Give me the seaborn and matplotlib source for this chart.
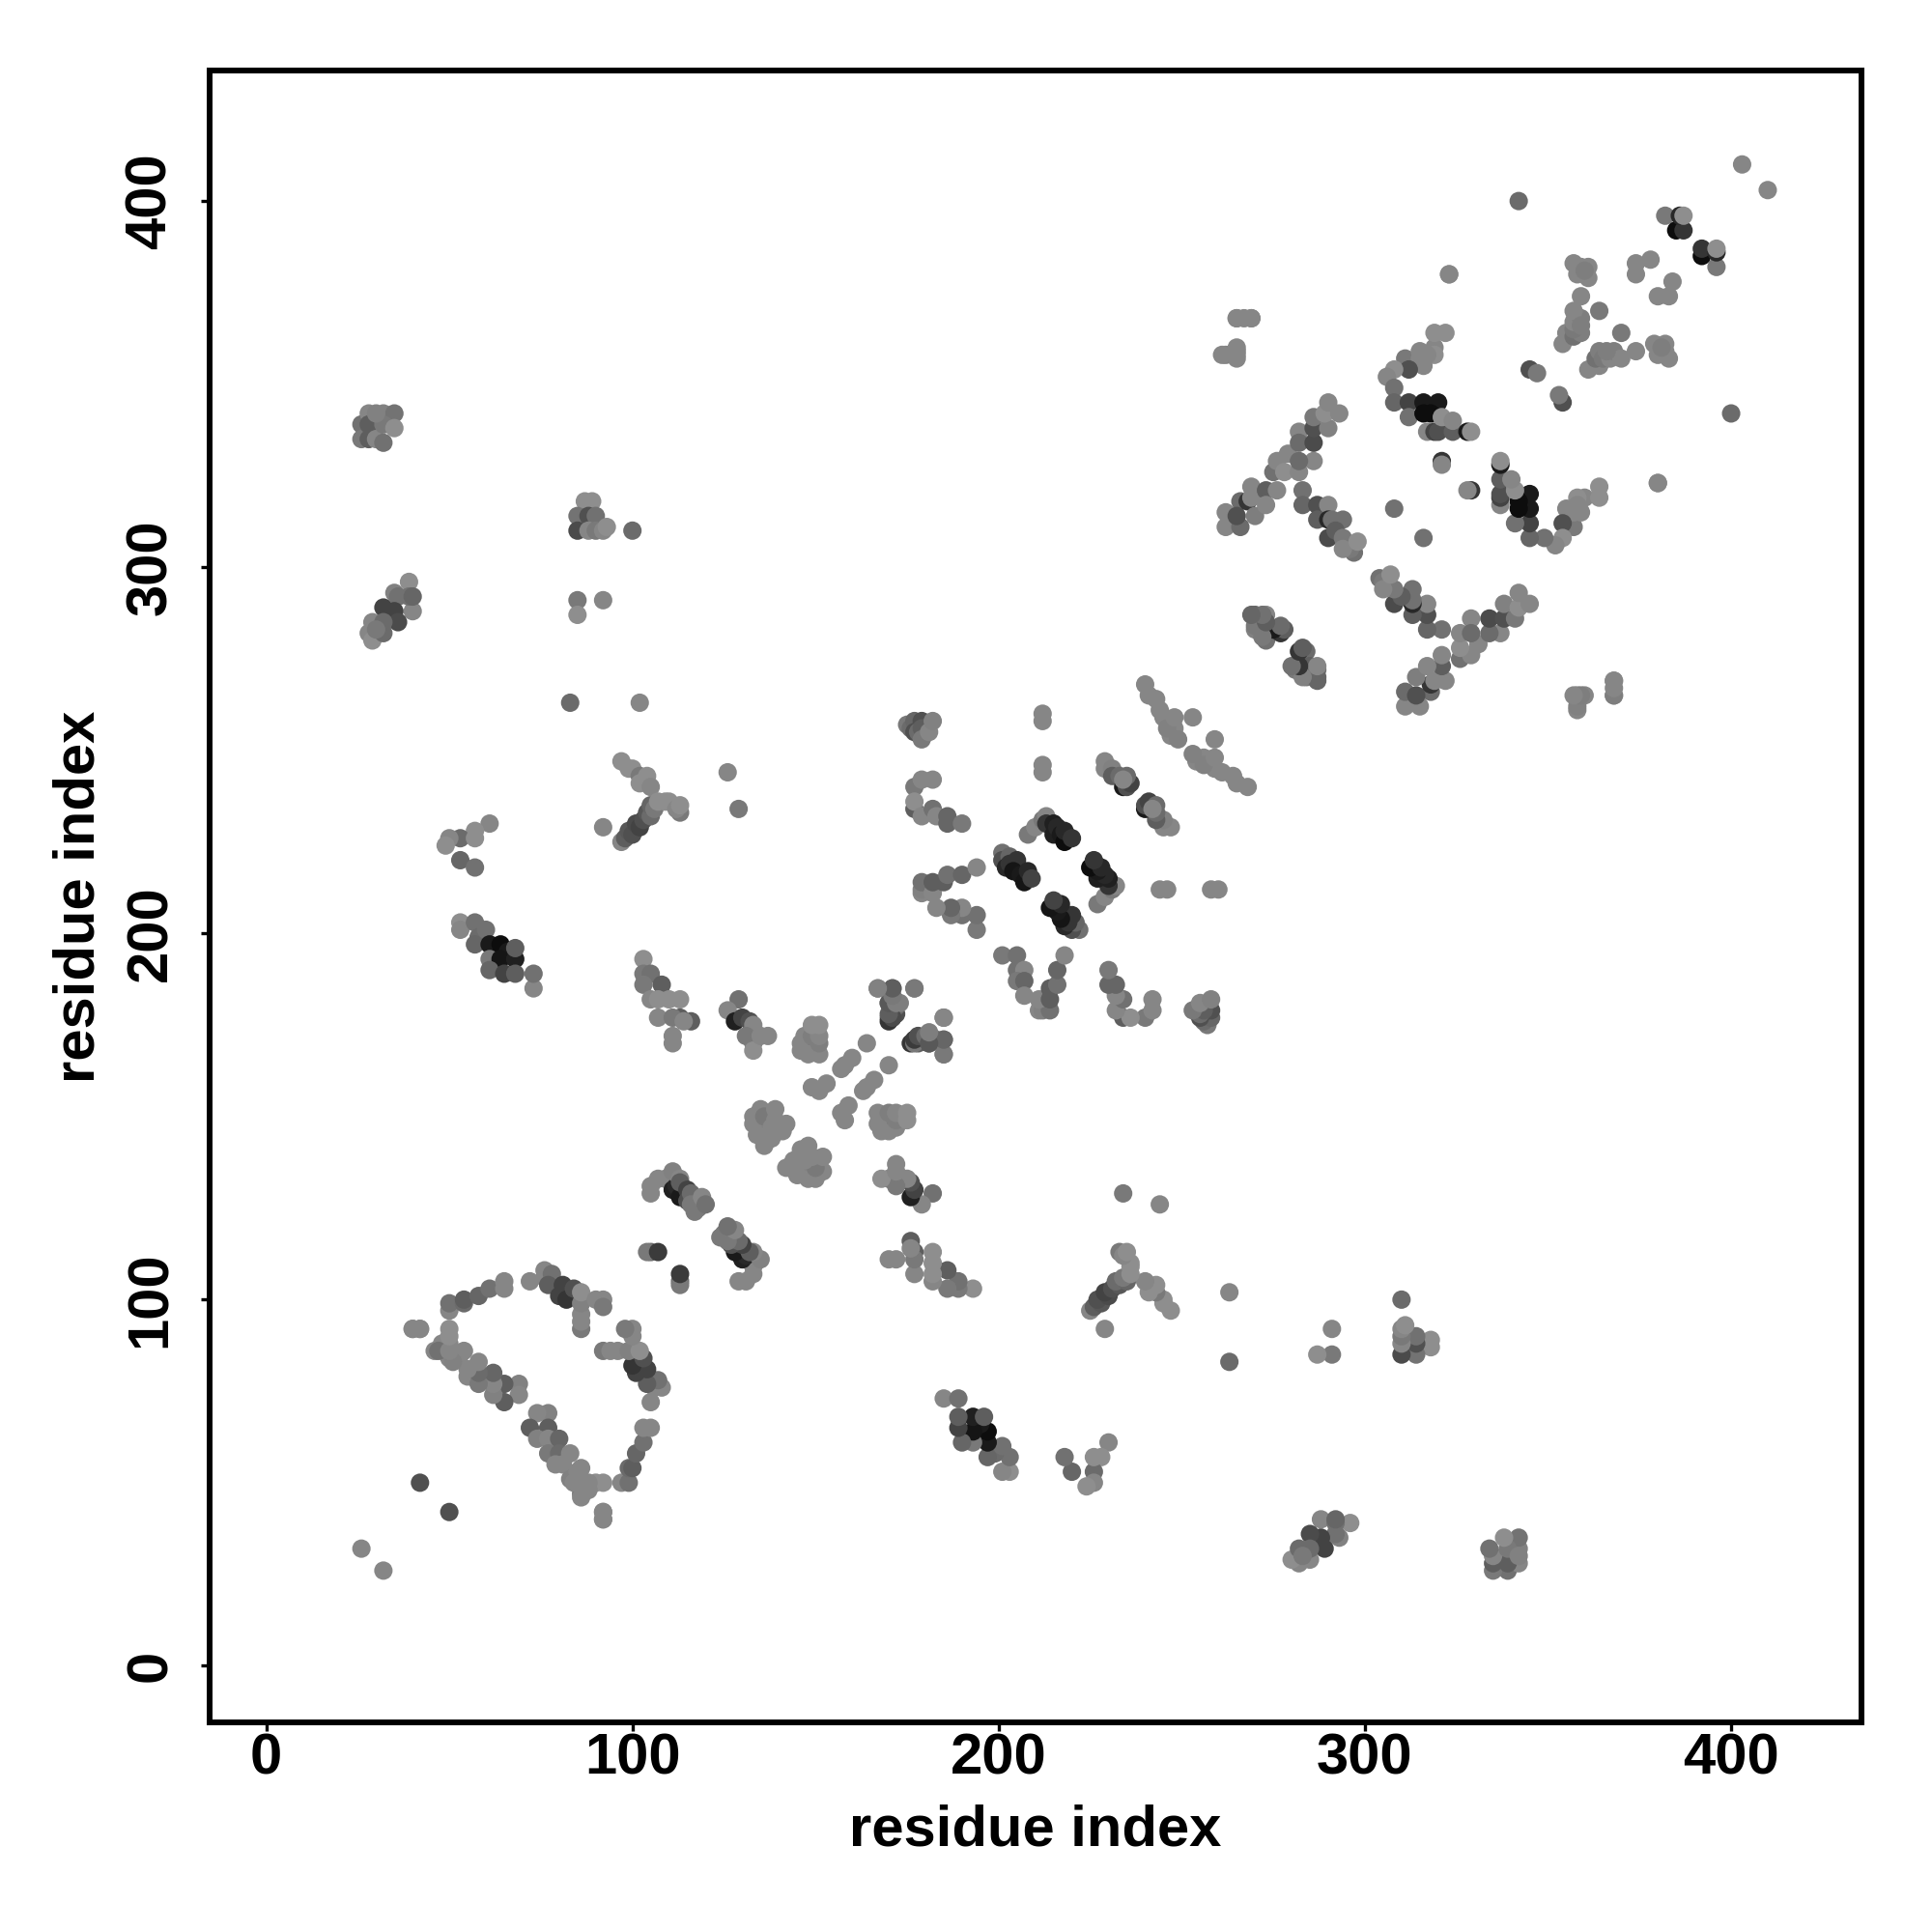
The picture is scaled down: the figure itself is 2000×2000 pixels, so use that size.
import pandas as pd
import matplotlib
matplotlib.use("Agg")
import matplotlib.pyplot as plt
import seaborn as sns

# contact map, each entry is (residue, residue, grey level), the map is symmetric
far_a = [(26,339,.42),(26,335,.45),(28,342,.5),(28,339,.35),(28,335,.35),(32,342,.48),(35,342,.43),(30,335,.5),
         (32,339,.45),(30,342,.48),(32,334,.42),(35,338,.53)]
far_b = [(39,296,.53),(40,288,.5),(35,293,.48),(36,292,.42),(39,292,.42),(40,292,.38),(32,289,.25),(35,288,.25),
         (36,285,.28),(29,285,.5),(32,285,.4),(28,282,.5),(29,280,.53),(32,282,.4),(30,283,.45)]
far_c = [(87,318,.53),(89,318,.53),(85,314,.43),(88,314,.3),(90,314,.42),(85,310,.28),(88,310,.5),(90,310,.45),
         (92,310,.5),(93,311,.53),(100,310,.4),(85,291,.45),(92,291,.5),(85,287,.53),(83,263,.4),(102,263,.5),
         (42,50,.3),(26,32,.5)]
left_a = [(61,230,.5),(57,228,.53),(53,226,.4),(57,226,.53),(50,226,.5),(49,224,.53),(53,220,.38),(57,218,.42)]
left_b = [(53,203,.53),(53,201,.5),(57,203,.42),(58,199,.4),(57,197,.38),(60,201,.42),(61,197,.1),(64,197,.05),
          (66,195,.1),(61,193,.45),(64,193,.08),(68,193,.12),(68,196,.35),(61,190,.38),(65,189,.25),(68,189,.35),
          (73,185,.5),(73,189,.42)]
stem_top = [(97,247,.53),(99,245,.53),(100,245,.53),(102,243,.45),(104,243,.53),(102,241,.53),(104,241,.53),
            (105,240,.5)]
stem = [(92,229,.5),(97,225,.5),(98,226,.35),(99,228,.33),(100,227,.3),(101,230,.28),(102,229,.25),(103,231,.3),
        (104,233,.33),(105,232,.4),(105,235,.38),(106,234,.45),(107,236,.53),(109,236,.53),(110,236,.53),
        (113,233,.45),(112,234,.5),(113,235,.53),(126,244,.5),(129,234,.45)]
mid_a = [(103,193,.53),(103,189,.45),(105,189,.42),(103,186,.45),(108,186,.35),(105,182,.5),(107,182,.53),
         (110,182,.53),(113,182,.53),(107,177,.5),(113,177,.35),(111,177,.45),(116,176,.35),(114,176,.5),
         (111,172,.5),(111,170,.5)]
mid_b = [(129,182,.42),(126,179,.5),(128,176,.12),(130,177,.25),(132,176,.3),(133,175,.5),(131,172,.45),
         (133,170,.45),(133,168,.53),(135,172,.5),(137,172,.5)]
centre_a = [(146,170,.5),(148,170,.45),(146,168,.5),(148,167,.5),(151,167,.5),(151,170,.47),(147,172,.5),
            (149,172,.47),(151,172,.5),(149,175,.53),(151,175,.53)]
centre_b = [(164,170,.5),(160,166,.5),(158,164,.5),(157,163,.5),(149,158,.5),(151,157,.5),(153,159,.5)]
centre_c = [(136,148,.35),(137,146,.45),(133,148,.5),(133,150,.5),(134,145,.5),(135,152,.5),(136,150,.45),
            (136,142,.5),(138,144,.5),(138,147,.5),(139,149,.5),(139,152,.5),(141,146,.5),(142,148,.5)]
helix_a = [(105,131,.5),(105,129,.5),(107,133,.5),(109,133,.5),(111,130,.12),(112,131,.15),(113,128,.1),
           (111,135,.48),(113,133,.5),(113,132,.35),(115,130,.25),(115,127,.3),(116,129,.4),(117,124,.45),
           (116,126,.45),(118,125,.45),(119,128,.5),(120,126,.42),(105,113,.4),(104,113,.45),(107,113,.22)]
helix_b = [(167,185,.45),(171,185,.38),(177,185,.5),(170,177,.45),(171,177,.22),(172,178,.3),(172,180,.4),
           (170,181,.33),(173,181,.47),(185,177,.45),(176,170,.2),(177,171,.28),(178,170,.35),(181,170,.33),
           (181,172,.47),(183,171,.45),(185,171,.35),(185,167,.48)]
arch_a = [(77,69,.48),(74,69,.5),(72,65,.35),(77,65,.35),(74,62,.48),(77,62,.5),(80,62,.38),(77,58,.45),(80,58,.4),
          (83,58,.5),(81,55,.5),(86,54,.5),(83,51,.48),(86,47,.42),(86,50,.5),(90,50,.53),(92,50,.53),(97,50,.5),
          (99,50,.42),(99,54,.4),(100,54,.35),(101,58,.38),(103,61,.42),(103,65,.5),(105,65,.5),(92,42,.5),(92,40,.5)]
arch_b = [(72,105,.5),(76,108,.5),(76,106,.5),(78,107,.42),(77,104,.35),(80,101,.25),(81,104,.25),(82,100,.2),
          (84,103,.3),(86,96,.5),(86,92,.45),(86,94,.5),(86,99,.48),(86,102,.53),(90,100,.5),(92,100,.5),(92,98,.45)]
arch_c = [(40,92,.5),(42,92,.5),(46,86,.5),(48,88,.5),(50,88,.5),(50,84,.5),(53,85,.5),(55,79,.5)]
side_a = [(175,257,.45),(176,256,.4),(177,258,.38),(179,258,.3),(177,255,.3),(178,255,.4),(179,256,.35),
          (179,253,.45),(181,255,.5),(182,258,.48),(177,240,.45),(179,242,.5),(182,242,.5)]
side_b = [(177,234,.35),(177,236,.53),(179,232,.5),(182,234,.42),(183,232,.5),(186,232,.38),(186,230,.38),(190,230,.45)]
bar_top = [(208,227,.45),(210,229,.5),(212,231,.45),(213,232,.5),(213,230,.2),(215,230,.12),(215,227,.12),
           (216,229,.15),(217,227,.1),(218,225,.05),(218,228,.15),(220,226,.2)]
bar_left = [(201,222,.42),(201,220,.3),(203,221,.38),(202,218,.15),(203,219,.2),(205,220,.2),(204,217,.08),
            (206,216,.1),(207,214,.08),(208,217,.15),(209,215,.25)]
loop_a = [(201,194,.45),(205,194,.42),(205,190,.42),(207,190,.5),(205,187,.45),(207,187,.38),(207,183,.5),
          (211,179,.5),(212,179,.48),(214,179,.42),(211,182,.5),(214,182,.35),(214,185,.35),(216,186,.42),
          (216,190,.38),(218,194,.5)]
loop_b = [(212,244,.5),(212,246,.5),(212,258,.5),(212,260,.5)]
strip_a = [(229,247,.5),(229,245,.5),(231,245,.48),(231,243,.35),(233,243,.4),(234,240,.1),(235,240,.3),
           (236,241,.25),(235,243,.4),(234,242,.5)]
strip_b = [(240,268,.5),(241,265,.5),(243,264,.5),(244,261,.5),(245,259,.5),(246,258,.5),(248,256,.5),(247,254,.5),
           (249,253,.48),(246,256,.48),(248,259,.5),(253,259,.5)]
upper_a = [(265,368,.47),(267,368,.5),(269,368,.5),(262,358,.48),(265,359,.47),(265,357,.5)]
upper_b = [(262,315,.5),(262,311,.5),(266,318,.4),(266,311,.4),(265,314,.3),(268,318,.2),(269,322,.5),(269,319,.5),
           (273,321,.35),(270,314,.47),(273,317,.5),(276,321,.5)]
upper_c = [(275,326,.42),(276,329,.5),(278,326,.53),(279,331,.5),(282,326,.5),(286,329,.5),(282,329,.4),(282,337,.5),
           (282,334,.4),(286,334,.28),(286,338,.3),(286,341,.45),(290,338,.48),(289,342,.53),(290,345,.5),(293,342,.5)]
upper_d = [(283,321,.42),(283,317,.38),(287,317,.3),(290,317,.5),(287,313,.35),(290,313,.15),(291,313,.42),
           (294,313,.42),(290,308,.28),(292,310,.35),(294,308,.45),(297,304,.42),(296,305,.45),(294,305,.5),(298,307,.53)]
upper_e = [(270,287,.38),(273,287,.5),(270,283,.48),(273,282,.2),(273,280,.42),(277,282,.2),(278,283,.35),
           (283,275,.1),(284,277,.4),(281,272,.45),(284,270,.45),(285,273,.35),(287,272,.42),(287,269,.38),
           (308,316,.42),(321,329,.2),(321,328,.5)]
upper_f = [(319,360,.5),(319,358,.53),(319,364,.53),(322,364,.53),(311,357,.45),(315,359,.5),(315,357,.5),(317,358,.5),
           (316,355,.5),(312,354,.3),(308,354,.53),(306,352,.5),(308,349,.42),(308,345,.38),(312,345,.25),(312,341,.42),
           (316,345,.1),(320,345,.1),(316,342,.05),(318,342,.05),(317,337,.5),(319,337,.25),(320,337,.3),(324,337,.35),
           (321,341,.53),(324,340,.5),(328,337,.1),(329,337,.53),(345,354,.3),(347,353,.45)]
top_a = [(357,383,.5),(359,382,.5),(361,382,.5),(361,379,.5),(358,380,.5),(360,381,.47),(359,374,.5),(364,370,.45),
         (355,364,.5),(354,361,.5),(357,363,.42),(359,364,.47),(357,365,.45),(357,367,.5),(359,368,.47),(357,370,.5),
         (359,366,.47),(358,265,.5),(360,265,.5),(358,261,.5),(368,269,.5),(368,265,.5)]
top_b = [(374,383,.5),(378,384,.5),(374,380,.5),(380,323,.5),(323,380,.5),(403,410,.5),(342,400,.4),(382,396,.45),
         (385,392,.05),(387,392,.2),(386,396,.15),(387,396,.53)]

groups = [far_a, far_b, far_c, left_a, left_b, stem_top, stem, mid_a, mid_b, centre_a, centre_b, centre_c,
          helix_a, helix_b, arch_a, arch_b, arch_c, side_a, side_b, bar_top, bar_left, loop_a, loop_b,
          strip_a, strip_b, upper_a, upper_b, upper_c, upper_d, upper_e, upper_f, top_a, top_b]

ticks = [0, 100, 200, 300, 400]

rows = []
for g in groups:
    for a, b, shade in g:
        rows.append((a, b, shade))
for g in groups:
    for a, b, shade in g:
        rows.append((b, a, shade))
df = pd.DataFrame(rows, columns=["x", "y", "shade"])

sns.set_style("white")
plt.rcParams["font.family"] = ["Liberation Sans", "DejaVu Sans"]
plt.rcParams["font.weight"] = "bold"

fig = plt.figure(figsize=(10, 10), dpi=200)
ax = fig.add_axes([0.1084, 0.1084, 0.8553, 0.8552])
sns.scatterplot(data=df, x="x", y="y", hue="shade", palette="gray", hue_norm=(0, 0.95),
                s=47, linewidth=0, legend=False, ax=ax)

ax.set_xlim(-15.5, 435.7)
ax.set_ylim(-15.5, 435.7)
ax.set_xticks(ticks)
ax.set_yticks(ticks)
ax.tick_params(axis="both", length=3.3, width=1.2, labelsize=21.5, left=True, bottom=True, colors="black")
ax.tick_params(axis="x", pad=0.3)
ax.tick_params(axis="y", pad=8.5)
for lab in ax.get_yticklabels():
    lab.set_rotation(90)
    lab.set_va("center")
for s in ax.spines.values():
    s.set_linewidth(2.15)
    s.set_color("black")
ax.set_xlabel("residue index", fontsize=21.5, fontweight="bold", labelpad=7, color="black")
ax.set_ylabel("residue index", fontsize=21.5, fontweight="bold", labelpad=7, color="black")

fig.savefig("out.png", dpi=200)
